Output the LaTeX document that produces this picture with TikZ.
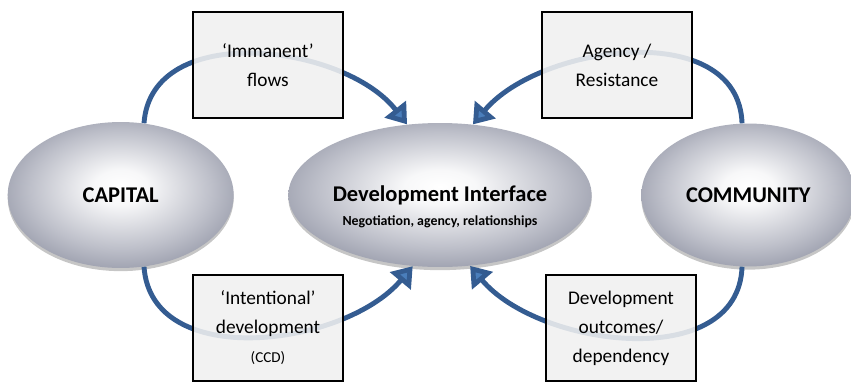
\documentclass[tikz,border=0pt]{standalone}
\usepackage{fontspec}
\setmainfont{Carlito}
\usepackage{tikz}
\usetikzlibrary{arrows.meta, shapes.geometric, positioning, shadows}
\definecolor{blobouter}{RGB}{128,132,150}
\definecolor{blobmid}{RGB}{190,192,202}
\definecolor{flowline}{RGB}{52,92,145}
\definecolor{flowhead}{RGB}{74,126,187}
\definecolor{boxfill}{RGB}{240,240,240}
\pgfdeclareradialshading{blobshade}{\pgfpoint{0bp}{3bp}}{color(0bp)=(white); color(6bp)=(white!94!blobouter); color(20bp)=(blobmid); color(34bp)=(blobouter); color(50bp)=(blobouter)}
\tikzset{
	blob/.style={
		ellipse, 
		shade, 
		shading=blobshade, 
		inner sep=0pt, 
		font=\bfseries\fontsize{12.8}{15}\selectfont,
		drop shadow={shadow xshift=0pt, shadow yshift=-1.8pt, opacity=0.45}
	},
	sub/.style={
		inner sep=0pt, 
		font=\bfseries\fontsize{7.9}{9}\selectfont
	},
	tag/.style={
		rectangle, 
		draw=black, 
		line width=1.2pt, 
		fill=boxfill, 
		fill opacity=0.88, 
		text opacity=1, 
		align=center, 
		minimum width=3cm, 
		minimum height=2.12cm,
		font=\fontsize{11}{16.5}\selectfont
	},
	flow/.style={line width=2.8pt, draw=flowline, -{Triangle[width=15pt,length=11pt,fill=flowhead]}}
}

\begin{document}
\begin{tikzpicture}[x=0.02cm, y=0.02cm]
	\useasboundingbox (0,0) rectangle (851,383);
	% the three ovals
	\node (dev) [blob, minimum width=5.92cm, minimum height=2.88cm, label={[sub, yshift=-0.54cm]center:{Negotiation, agency, relationships}}] at (440,188) {Development Interface};
	\node (cap) [blob, minimum width=4.52cm, minimum height=2.92cm, left=1.08cm of dev] {CAPITAL};
	\node (comm) [blob, minimum width=4.28cm, minimum height=2.86cm, right=0.98cm of dev] {COMMUNITY};
	
	\draw [flow] (cap.72) to[out=86, in=128] (dev.115);
	\draw [flow] (comm.95) to[out=92, in=50] (dev.65);
	\draw [flow] (cap.-72) to[out=-86, in=-130] (dev.-111);
	\draw [flow] (comm.-95) to[out=-92, in=-50] (dev.-67);
	
	% boxes over the arcs
	\node (imm) [tag] at (268,318) {‘Immanent’\\flows};
	\node (agy) [tag] at (617,318) {Agency /\\Resistance};
	\node (int) [tag] at (268,55) {‘Intentional’\\development\\{\fontsize{8.6}{9}\selectfont (CCD)}};
	\node (out) [tag] at (621,55) {Development\\outcomes/\\dependency};
\end{tikzpicture}
\end{document}
